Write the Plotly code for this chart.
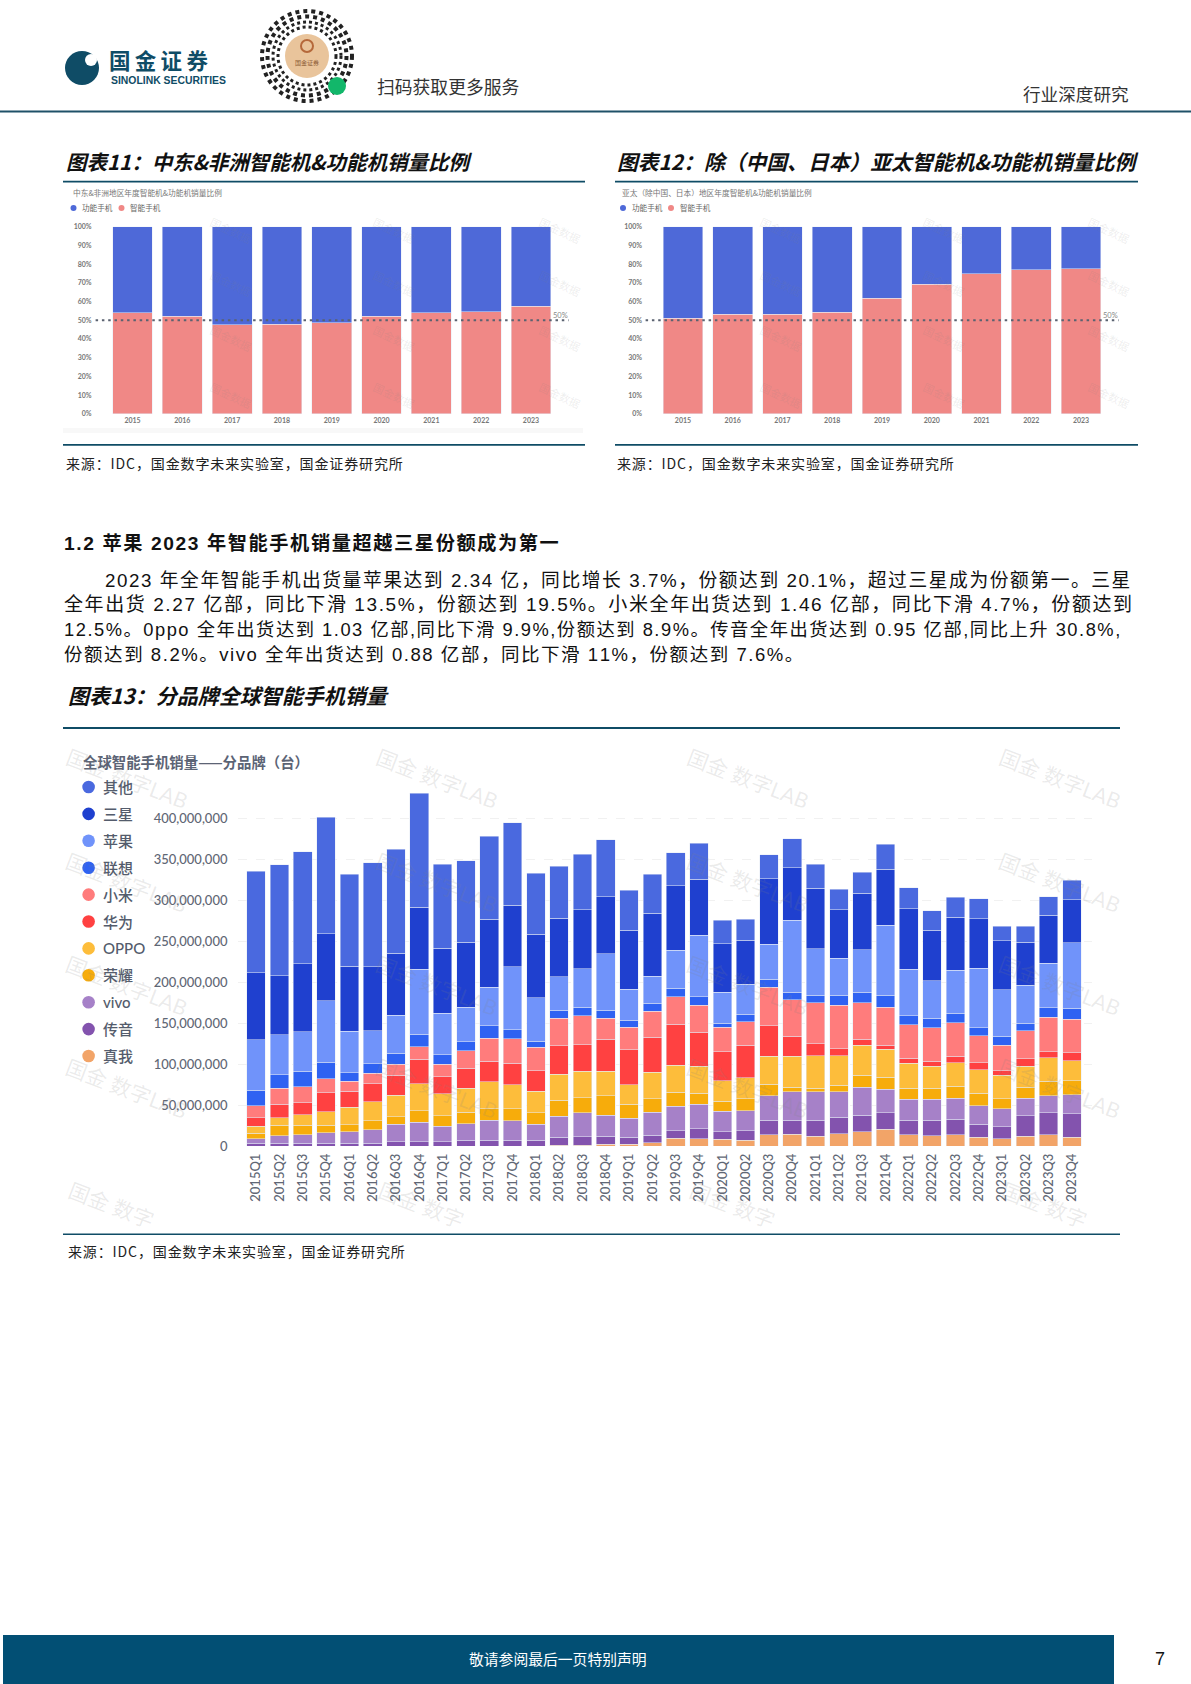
import plotly.graph_objects as go

W, H = 1191, 1684

# ---------- data ----------
years = ["2015", "2016", "2017", "2018", "2019", "2020", "2021", "2022", "2023"]
mea_smart = [53.9, 52.1, 47.7, 48.0, 48.6, 52.1, 53.9, 54.6, 57.5]
mea_feature = [46.1, 47.9, 52.3, 52.0, 51.4, 47.9, 46.1, 45.4, 42.5]
apac_smart = [51.2, 53.2, 53.2, 54.4, 61.7, 69.2, 74.7, 77.0, 77.4]
apac_feature = [48.8, 46.8, 46.8, 45.6, 38.3, 30.8, 25.3, 23.0, 22.6]
pct_ticks = [0, 10, 20, 30, 40, 50, 60, 70, 80, 90, 100]

quarters = [f"{y}Q{q}" for y in range(2015, 2024) for q in range(1, 5)]
realme = [0,0,0,0,0,0,0,0,0,0,0,0,0,1.2,1.2,2.0,2.0,4.1,9.3,8.9,8.1,6.9,13.8,14.2,11.8,15.0,17.1,20.3,13.8,12.6,13.8,10.6,8.9,11.8,13.8,10.6]
transsion = [3.3,3.3,3.3,3.3,3.3,3.3,5.3,5.3,5.3,7.3,7.3,7.3,7.3,9.3,10.2,10.2,8.5,9.3,9.3,12.2,9.3,11.8,17.5,17.5,19.5,20.3,20.7,20.3,17.5,18.7,18.7,15.9,14.6,24.8,26.8,28.5]
vivo = [5.3,9.3,10.2,13.0,13.8,16.7,21.1,23.6,18.7,19.9,24.0,23.2,19.5,26.0,29.3,25.2,23.6,28.0,30.1,29.7,25.2,24.0,30.1,34.6,35.0,30.9,34.1,28.9,25.6,25.6,25.6,22.4,22.0,21.5,20.7,23.6]
honor = [6.9,12.6,11.8,8.9,8.9,10.6,9.3,13.8,12.6,14.2,14.2,15.0,13.8,19.5,18.3,23.6,17.1,16.3,17.1,13.4,12.2,15.0,14.2,5.3,4.1,8.1,14.2,14.6,13.8,13.8,15.0,15.4,12.2,13.4,17.9,16.7]
oppo = [8.5,9.3,13.0,16.3,21.1,23.2,26.4,33.3,27.2,29.3,32.9,29.3,26.4,31.3,32.1,30.1,23.6,32.5,32.9,33.3,24.8,25.6,33.7,37.8,39.8,35.8,36.6,33.7,30.5,26.8,28.5,28.5,28.5,26.0,28.5,24.8]
huawei = [10.6,16.7,14.2,23.2,19.5,22.4,24.0,30.1,20.7,24.0,24.8,26.4,24.8,35.0,32.1,39.0,42.3,42.3,50.0,41.5,35.4,39.8,37.4,24.4,14.6,8.5,7.3,5.3,6.1,6.1,8.1,8.9,5.7,8.9,7.3,9.3]
xiaomi = [14.6,19.5,19.5,17.5,12.2,12.6,13.8,15.0,15.0,21.5,28.5,29.3,28.5,33.3,35.4,25.6,28.0,32.1,33.3,32.9,30.1,28.5,46.7,44.7,50.0,53.3,44.7,46.3,40.7,40.7,40.7,32.5,30.9,34.1,41.9,41.1]
lenovo = [18.7,16.3,19.1,19.9,10.6,11.4,13.4,15.4,11.8,11.0,15.0,11.0,7.7,9.8,10.6,9.8,8.5,9.3,10.2,10.2,4.9,8.9,10.2,8.9,9.3,12.2,12.6,14.6,11.0,11.4,11.4,9.8,11.0,9.3,11.4,13.4]
apple = [61.4,48.4,48.4,75.2,50.8,40.2,46.3,78.9,50.4,42.3,47.2,77.2,52.8,41.1,47.2,68.7,37.8,33.3,46.7,74.8,37.4,37.0,42.3,88.2,56.5,45.1,52.0,85.4,56.5,45.9,52.4,72.8,56.5,46.3,54.5,80.1]
samsung = [82.1,72.0,82.9,81.3,79.3,78.0,75.2,76.0,79.7,78.9,82.9,74.8,77.6,71.5,72.0,69.9,72.0,76.8,78.5,68.7,59.3,53.7,80.1,63.8,74.0,58.9,69.1,67.9,73.6,61.8,64.6,60.2,59.8,52.4,58.9,52.0]
other = [123.6,135.4,136.6,142.3,111.8,126.8,126.8,138.6,102.4,99.2,101.2,100.8,74.0,63.4,67.1,69.1,48.8,47.2,40.2,43.5,28.9,25.6,29.3,35.0,29.3,25.2,25.6,30.5,26.0,23.6,24.8,24.4,17.9,19.5,22.0,24.0]

brand_ticks = [0, 50, 100, 150, 200, 250, 300, 350, 400]
brand_tick_labels = ["0", "50,000,000", "100,000,000", "150,000,000", "200,000,000",
                     "250,000,000", "300,000,000", "350,000,000", "400,000,000"]

stack = [("真我", realme, "#F2A468"), ("传音", transsion, "#8353AE"), ("vivo", vivo, "#A681C8"),
         ("荣耀", honor, "#F7AC0B"), ("OPPO", oppo, "#FDBD3B"), ("华为", huawei, "#FF4141"),
         ("小米", xiaomi, "#FF7C7C"), ("联想", lenovo, "#2F62F2"), ("苹果", apple, "#7093FA"),
         ("三星", samsung, "#1F40CF"), ("其他", other, "#4A69DF")]

BLUE, PINK = "#4E69D8", "#F08886"
NAVY = "#0F4C66"
CJK = "'Noto Sans CJK SC', sans-serif"
MIX = "'Liberation Sans', 'Noto Sans CJK SC', sans-serif"
LATO = "Lato, 'Noto Sans CJK SC', sans-serif"

def fx(x): return x / W
def fy(y): return 1 - y / H
def spaced(s, gap="\u200a"): return gap.join(s)

annotations, shapes = [], []

def text(x, y, s, size=12, color="#222", family=CJK, anchor="left", weight=None, style=None, angle=0):
    font = dict(size=size, color=color, family=family)
    if weight: font["weight"] = weight
    if style: font["style"] = style
    annotations.append(dict(x=fx(x), y=fy(y), xref="paper", yref="paper", text=s, showarrow=False,
                            xanchor=anchor, yanchor="middle", font=font, textangle=angle))

def rect(x0, y0, x1, y1, color):
    shapes.append(dict(type="rect", xref="paper", yref="paper", x0=fx(x0), x1=fx(x1), y0=fy(y1), y1=fy(y0),
                       fillcolor=color, line=dict(width=0), layer="below"))

def circle(cx, cy, r, fill=None, line=None, lw=0, dash=None, layer="above"):
    ln = dict(width=lw, color=line or "rgba(0,0,0,0)")
    if dash: ln["dash"] = dash
    shapes.append(dict(type="circle", xref="paper", yref="paper", x0=fx(cx - r), x1=fx(cx + r), y0=fy(cy + r), y1=fy(cy - r),
                       fillcolor=fill or "rgba(0,0,0,0)", line=ln, layer=layer))

fig = go.Figure()

# ---------- top charts ----------
def share_chart(n, smart, feature, x0, x1, lx0, lx1, title, title_x):
    xa, ya = f"x{n}", f"y{n}"
    fig.add_bar(x=years, y=smart, marker_color=PINK, xaxis=xa, yaxis=ya, name="智能手机")
    fig.add_bar(x=years, y=feature, marker_color=BLUE, xaxis=xa, yaxis=ya, name="功能手机")
    fig.layout[f"xaxis{n}"] = dict(domain=[fx(x0), fx(x1)], anchor=ya, type="category", showgrid=False, zeroline=False,
                                   tickfont=dict(size=7, color="#777", family=LATO, weight=700), ticks="", ticklabelstandoff=1)
    fig.layout[f"yaxis{n}"] = dict(domain=[fy(413.9), fy(226.6)], anchor=xa, range=[0, 100], tickvals=pct_ticks,
                                   ticktext=[f"{v}%" for v in pct_ticks], showgrid=False, zeroline=False,
                                   tickfont=dict(size=7, color="#777", family=LATO, weight=700), ticks="", ticklabelstandoff=15)
    shapes.append(dict(type="line", xref="paper", yref=ya, x0=fx(lx0), x1=fx(lx1), y0=50, y1=50,
                       line=dict(color="#5A6270", width=2, dash="2.5px,3.8px"), layer="above"))
    text(lx1 - 8, 316, "50%", size=7.5, color="#888", family=LATO, anchor="center")
    text(title_x, 192.5, title, size=7.7, color="#777")
    circle(title_x + 3, 208, 3, fill=BLUE)
    text(title_x + 9.5, 208, "功能手机", size=7.6, color="#666")
    circle(title_x + 51, 208, 3, fill=PINK)
    text(title_x + 57.5, 208, "智能手机", size=7.6, color="#666")

rect(63, 428, 583, 433, "#F8F8F8")
share_chart(1, mea_smart, mea_feature, 107.6, 555.9, 95.6, 568.6, "中东&非洲地区年度智能机&功能机销量比例", 70.5)
share_chart(2, apac_smart, apac_feature, 658.1, 1105.9, 645.6, 1118.6, "亚太（除中国、日本）地区年度智能机&功能机销量比例", 620)

# ---------- brand chart ----------
for name, vals, col in stack:
    fig.add_bar(x=quarters, y=vals, marker_color=col, name=name, xaxis="x3", yaxis="y3")
fig.layout.xaxis3 = dict(domain=[fx(237.5), fx(1092)], anchor="y3", type="category", range=[-0.8, 35.86], showgrid=False, zeroline=False,
                         tickangle=-90, tickfont=dict(size=13, color="#5F6775", family=LATO, weight=500), ticks="", ticklabelstandoff=4)
fig.layout.yaxis3 = dict(domain=[fy(1146), fy(777)], anchor="x3", range=[0, 450], tickvals=brand_ticks, ticktext=brand_tick_labels,
                         showgrid=True, gridcolor="#F1F1F1", griddash="dash", gridwidth=1, zeroline=False,
                         tickfont=dict(size=13, color="#5F6775", family=LATO, weight=500), ticks="", ticklabelstandoff=9)

text(81, 761, "全球智能手机销量——分品牌（台）", size=14.4, color="#5C6475", weight=700)
for i, (name, _, col) in enumerate(reversed(stack)):
    y = 787 + i * 26.9
    circle(88.6, y, 6.3, fill=col)
    text(101, y, name, size=15, color="#545C6C", family=LATO, weight=500)

# watermarks
for wx in (127, 437, 748, 1060):
    for wy in (779, 882, 985, 1088):
        text(wx, wy, "国金 数字LAB", size=21, color="rgba(130,130,130,0.16)", family=LATO, anchor="center", angle=21)
    text(wx - 16, 1204, "国金 数字", size=21, color="rgba(130,130,130,0.16)", family=LATO, anchor="center", angle=21)
for wx in (231, 394, 560, 781, 944, 1109):
    for wy in (230, 283, 338, 395):
        text(wx, wy, "国金数据", size=11, color="rgba(130,130,130,0.14)", anchor="center", angle=25)

# ---------- page furniture ----------
rect(0, 110.5, W, 112.5, "#1F5168")
for a, b in ((63, 585), (615, 1138)):
    rect(a, 180.8, b, 182.6, NAVY)
    rect(a, 444, b, 445.8, NAVY)
rect(63, 727, 1120, 729, NAVY)
rect(63, 1233.5, 1120, 1235, NAVY)
rect(3, 1635, 1114, 1684, "#024F74")

# logo
circle(82, 68, 17, fill=NAVY)
circle(91, 60, 6, fill="white")
text(107, 59.5, spaced("国金证券", "\u2009"), size=21.5, color=NAVY, weight=700)
text(109, 80.5, "SINOLINK SECURITIES", size=10.4, color=NAVY, family=MIX, weight=700)

# QR badge
for r, w in ((45, 4), (39.5, 4), (34, 3), (29, 3)):
    circle(307, 56, r, line="#222", lw=w, dash="dot")
circle(307, 56, 22, fill="#E9C49B")
circle(307, 46, 6, line="#B5683A", lw=2)
text(307, 62, "国金证券", size=6, color="#8C5A34", anchor="center")
circle(337, 86, 9, fill="#12B76A")

text(375, 86, "扫码获取更多服务", size=17.8, color="#333")
text(1131, 94, "行业深度研究", size=17.6, color="#333", anchor="right")

TITLE = dict(weight=700, style="italic", color="#111")
text(64, 161, "图表11：中东&非洲智能机&功能机销量比例", size=20.5, **TITLE)
text(615, 161, "图表12：除（中国、日本）亚太智能机&功能机销量比例", size=20.8, **TITLE)
text(66, 695, "图表13：分品牌全球智能手机销量", size=21, **TITLE)

for x, y in ((64, 463), (615, 463), (66, 1251)):
    text(x, y, spaced("来源：IDC，国金数字未来实验室，国金证券研究所"), size=14, color="#222")

text(62, 543, spaced("1.2 苹果 2023 年智能手机销量超越三星份额成为第一"), size=19.2, color="#111", weight=700, family=MIX)
body_lines = ["2023 年全年智能手机出货量苹果达到 2.34 亿，同比增长 3.7%，份额达到 20.1%，超过三星成为份额第一。三星",
              "全年出货 2.27 亿部，同比下滑 13.5%，份额达到 19.5%。小米全年出货达到 1.46 亿部，同比下滑 4.7%，份额达到",
              "12.5%。0ppo 全年出货达到 1.03 亿部,同比下滑 9.9%,份额达到 8.9%。传音全年出货达到 0.95 亿部,同比上升 30.8%,",
              "份额达到 8.2%。vivo 全年出货达到 0.88 亿部，同比下滑 11%，份额达到 7.6%。"]
body_x = [103, 62, 62, 62]
body_y = [580, 605, 629, 654]
body_size = [18.75, 19.0, 18.3, 18.5]
for x, y, s, sz in zip(body_x, body_y, body_lines, body_size):
    text(x, y, spaced(s), size=sz, color="#111", family=MIX)

text(558, 1658, "敬请参阅最后一页特别声明", size=14.8, color="white", anchor="center")
text(1160, 1659, "7", size=18, color="#111", family=MIX, anchor="center")

fig.update_layout(barmode="stack", bargap=0.2, width=W, height=H, autosize=False, showlegend=False,
                  margin=dict(l=0, r=0, t=0, b=0, pad=0, autoexpand=False), paper_bgcolor="white", plot_bgcolor="white",
                  annotations=annotations, shapes=shapes, font=dict(family=CJK))

fig.write_html("out.html", config={"displayModeBar": False},
               post_script="document.body.style.margin='0';document.body.style.overflow='hidden';")
